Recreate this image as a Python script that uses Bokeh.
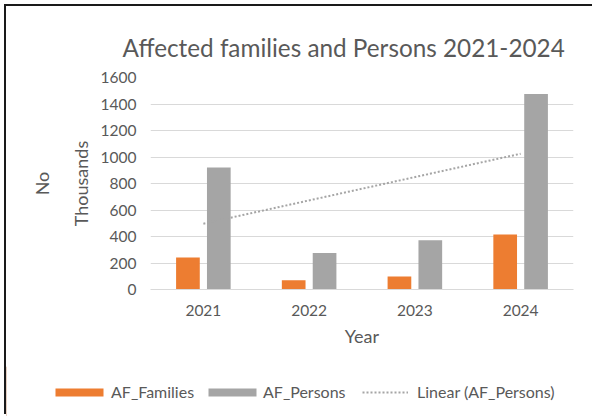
import numpy as np
from bokeh.plotting import figure
from bokeh.layouts import column
from bokeh.models import (FactorRange, Range1d, Legend, LegendItem, Title,
                          LinearAxis, FixedTicker, ColumnDataSource)
from bokeh.transform import dodge
from bokeh.embed import file_html
from bokeh.resources import INLINE

years = ["2021", "2022", "2023", "2024"]
af_families = [241, 70, 98, 416]
af_persons = [920, 276, 371, 1475]
y_ticks = [0, 200, 400, 600, 800, 1000, 1200, 1400, 1600]

FONT = "Lato"
TXT = "#595959"
ORANGE = "#ED7D31"
GRAY = "#A5A5A5"
GRID = "#D9D9D9"

src = ColumnDataSource(dict(year=years, fam=af_families, per=af_persons))

p = figure(width=592, height=360,
           x_range=FactorRange(factors=years, range_padding=0),
           y_range=Range1d(0, 1600),
           output_backend="svg", toolbar_location=None,
           min_border_left=144, min_border_right=25,
           min_border_top=71, min_border_bottom=77)
p.frame_align = False

r_fam = p.vbar(x=dodge("year", -0.146, range=p.x_range), top="fam", width=0.224,
               source=src, fill_color=ORANGE, line_color=None)
r_per = p.vbar(x=dodge("year", 0.146, range=p.x_range), top="per", width=0.224,
               source=src, fill_color=GRAY, line_color=None)

coef = np.polyfit(np.arange(1, len(years) + 1), af_persons, 1)
trend = np.polyval(coef, [1, len(years)])
p.line(x=[years[0], years[-1]], y=trend, line_color=GRAY, line_width=2,
       line_dash="2 2")

# axes
p.yaxis.ticker = y_ticks
p.yaxis.axis_line_color = None
p.yaxis.major_tick_line_color = None
p.yaxis.major_tick_out = 0
p.yaxis.major_tick_in = 0
p.yaxis.minor_tick_line_color = None
p.yaxis.major_label_standoff = 14
p.yaxis.major_label_text_font = FONT
p.yaxis.major_label_text_font_size = "15.5px"
p.yaxis.major_label_text_color = TXT
p.yaxis.axis_label = "Thousands"
p.yaxis.axis_label_text_font = FONT
p.yaxis.axis_label_text_font_size = "18px"
p.yaxis.axis_label_text_font_style = "normal"
p.yaxis.axis_label_text_color = TXT
p.yaxis.axis_label_standoff = 6

p.xaxis.axis_line_color = GRID
p.xaxis.major_tick_line_color = None
p.xaxis.major_tick_out = 0
p.xaxis.major_tick_in = 0
p.xaxis.minor_tick_line_color = None
p.xaxis.major_label_standoff = 15
p.xaxis.major_label_text_font = FONT
p.xaxis.major_label_text_font_size = "15.5px"
p.xaxis.major_label_text_color = TXT
p.xaxis.axis_label = "Year"
p.xaxis.axis_label_text_font = FONT
p.xaxis.axis_label_text_font_size = "18px"
p.xaxis.axis_label_text_font_style = "normal"
p.xaxis.axis_label_text_color = TXT
p.xaxis.axis_label_standoff = 6

# outer axis title "No"
ax_no = LinearAxis(ticker=FixedTicker(ticks=[]), axis_label="No",
                   axis_line_color=None, major_tick_line_color=None,
                   major_tick_out=0, major_tick_in=0,
                   minor_tick_line_color=None,
                   axis_label_text_font=FONT, axis_label_text_font_size="18px",
                   axis_label_text_font_style="normal", axis_label_text_color=TXT,
                   axis_label_standoff=14)
p.add_layout(ax_no, "left")

p.ygrid.grid_line_color = GRID
p.xgrid.grid_line_color = None
p.outline_line_color = None

# title
p.add_layout(Title(text="Affected families and Persons 2021-2024", align="left",
                   offset=-28, standoff=31, text_font=FONT,
                   text_font_size="24.3px", text_font_style="normal",
                   text_color=TXT), "above")

# legend strip (proxy renderers sit outside the visible range)
lf = figure(width=592, height=50, x_range=Range1d(0, 1), y_range=Range1d(0, 1),
            x_axis_type=None, y_axis_type=None, output_backend="svg",
            toolbar_location=None, min_border=0)
lf.frame_align = False
lf.grid.visible = False
lf.outline_line_color = None
lg_fam = lf.vbar(x=[-5], top=[1], width=0.1, fill_color=ORANGE, line_color=None)
lg_per = lf.vbar(x=[-5], top=[1], width=0.1, fill_color=GRAY, line_color=None)
lg_tr = lf.line(x=[-5, -4], y=[0, 0], line_color=GRAY, line_width=2, line_dash="2 2")

def make_legend(label, rend, x, gw, gh, standoff):
    return Legend(items=[LegendItem(label=label, renderers=[rend])],
                  location=(x, 15), glyph_width=gw, glyph_height=gh,
                  label_standoff=standoff, padding=0, margin=0,
                  label_text_font=FONT, label_text_font_size="16px",
                  label_text_color=TXT, border_line_color=None,
                  background_fill_alpha=0)

lf.add_layout(make_legend("AF_Families", lg_fam, 43, 60, 10, 2), "center")
lf.add_layout(make_legend("AF_Persons", lg_per, 196, 60, 10, 1), "center")
lf.add_layout(make_legend("Linear (AF_Persons)", lg_tr, 356, 46, 10, 9), "center")

layout = column(p, lf, spacing=0,
                styles={"margin-left": "6px", "margin-top": "6px",
                        "box-shadow": "-2px -2px 0 0 #1a1a1a"})

open("out.html", "w").write(file_html(layout, INLINE))
